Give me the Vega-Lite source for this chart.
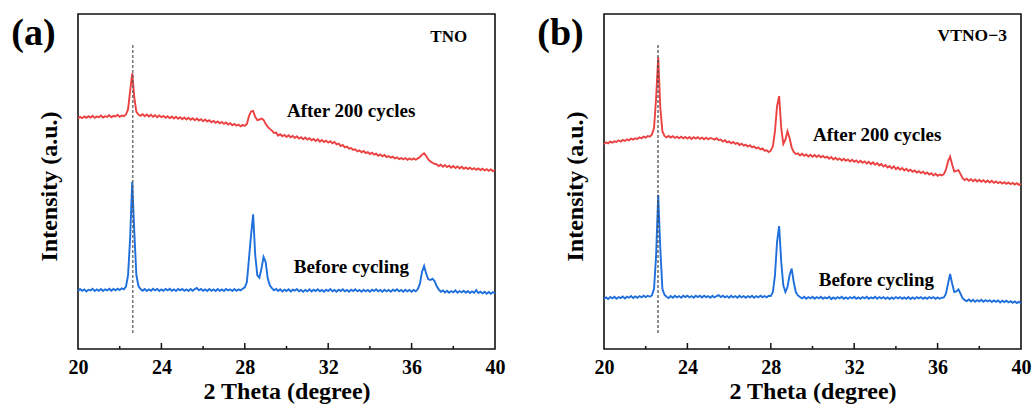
{
"$schema": "https://vega.github.io/schema/vega-lite/v6.json",
"padding": {"left": 10, "top": 13, "right": 5, "bottom": 0},
"background": "white",
"config": {
 "view": {"stroke": "#111", "strokeWidth": 1.6},
 "font": "Liberation Serif",
 "axis": {"grid": false, "domain": false, "ticks": false, "labelFont": "Liberation Serif", "titleFont": "Liberation Serif", "labelFontWeight": 700, "titleFontWeight": 700, "labelColor": "#000", "titleColor": "#000"},
 "axisX": {"labelFontSize": 20, "labelFontWeight": 700, "titleFontSize": 24, "labelPadding": 8, "titlePadding": 2, "labelFlush": false, "labelOverlap": false},
 "axisY": {"labels": false, "titleFontSize": 24, "titlePadding": 17, "titleY": 172}
},
"datasets": {
 "xrd": [
{"x":20.0,"ar":68.8,"ab":17.3,"br":61.2,"bb":15.0},
{"x":20.1,"ar":69.3,"ab":17.9,"br":61.7,"bb":15.4},
{"x":20.2,"ar":68.9,"ab":17.4,"br":61.4,"bb":14.9},
{"x":20.3,"ar":69.4,"ab":17.8,"br":61.9,"bb":15.5},
{"x":20.4,"ar":69.0,"ab":17.2,"br":61.6,"bb":15.1},
{"x":20.5,"ar":69.5,"ab":17.7,"br":62.0,"bb":15.6},
{"x":20.6,"ar":69.1,"ab":17.5,"br":61.8,"bb":15.0},
{"x":20.7,"ar":69.6,"ab":18.0,"br":62.3,"bb":15.5},
{"x":20.8,"ar":69.0,"ab":17.3,"br":61.9,"bb":15.2},
{"x":20.9,"ar":69.4,"ab":17.8,"br":62.4,"bb":15.7},
{"x":21.0,"ar":69.2,"ab":17.4,"br":62.1,"bb":15.1},
{"x":21.1,"ar":69.7,"ab":17.9,"br":62.6,"bb":15.6},
{"x":21.2,"ar":69.1,"ab":17.3,"br":62.3,"bb":15.3},
{"x":21.3,"ar":69.5,"ab":17.8,"br":62.8,"bb":15.8},
{"x":21.4,"ar":69.3,"ab":17.5,"br":62.5,"bb":15.2},
{"x":21.5,"ar":69.8,"ab":18.0,"br":62.9,"bb":15.7},
{"x":21.6,"ar":69.2,"ab":17.4,"br":62.7,"bb":15.3},
{"x":21.7,"ar":69.6,"ab":17.9,"br":63.2,"bb":15.8},
{"x":21.8,"ar":69.4,"ab":17.5,"br":62.9,"bb":15.4},
{"x":21.9,"ar":69.9,"ab":18.0,"br":63.4,"bb":15.9},
{"x":22.0,"ar":69.3,"ab":17.6,"br":63.1,"bb":15.5},
{"x":22.1,"ar":69.7,"ab":18.1,"br":63.6,"bb":15.9},
{"x":22.2,"ar":69.5,"ab":17.8,"br":63.4,"bb":15.6},
{"x":22.3,"ar":70.0,"ab":18.6,"br":64.0,"bb":16.0},
{"x":22.4,"ar":71.5,"ab":22.0,"br":66.0,"bb":18.0},
{"x":22.5,"ar":77.0,"ab":33.0,"br":75.0,"bb":28.0},
{"x":22.6,"ar":82.3,"ab":49.9,"br":87.1,"bb":46.0},
{"x":22.7,"ar":75.0,"ab":35.0,"br":72.0,"bb":30.0},
{"x":22.8,"ar":70.8,"ab":22.0,"br":65.0,"bb":18.0},
{"x":22.9,"ar":70.0,"ab":18.8,"br":63.6,"bb":16.2},
{"x":23.0,"ar":69.6,"ab":17.9,"br":63.2,"bb":15.6},
{"x":23.1,"ar":70.1,"ab":17.4,"br":63.6,"bb":15.2},
{"x":23.2,"ar":69.5,"ab":17.9,"br":63.1,"bb":15.8},
{"x":23.3,"ar":70.0,"ab":17.3,"br":63.5,"bb":15.3},
{"x":23.4,"ar":69.4,"ab":17.8,"br":63.0,"bb":15.9},
{"x":23.5,"ar":69.9,"ab":17.4,"br":63.4,"bb":15.4},
{"x":23.6,"ar":69.3,"ab":18.0,"br":62.9,"bb":15.8},
{"x":23.7,"ar":69.8,"ab":17.5,"br":63.4,"bb":15.3},
{"x":23.8,"ar":69.2,"ab":17.9,"br":62.9,"bb":15.9},
{"x":23.9,"ar":69.7,"ab":17.3,"br":63.3,"bb":15.5},
{"x":24.0,"ar":69.2,"ab":17.8,"br":62.8,"bb":15.9},
{"x":24.1,"ar":69.6,"ab":17.4,"br":63.3,"bb":15.4},
{"x":24.2,"ar":69.0,"ab":17.9,"br":62.7,"bb":15.8},
{"x":24.3,"ar":69.5,"ab":17.5,"br":63.2,"bb":15.3},
{"x":24.4,"ar":68.9,"ab":18.0,"br":62.8,"bb":15.9},
{"x":24.5,"ar":69.4,"ab":17.4,"br":63.2,"bb":15.5},
{"x":24.6,"ar":68.8,"ab":17.8,"br":62.7,"bb":15.9},
{"x":24.7,"ar":69.3,"ab":17.3,"br":63.1,"bb":15.4},
{"x":24.8,"ar":68.7,"ab":17.9,"br":62.6,"bb":15.9},
{"x":24.9,"ar":69.2,"ab":17.5,"br":63.1,"bb":15.5},
{"x":25.0,"ar":68.6,"ab":17.9,"br":62.6,"bb":15.8},
{"x":25.1,"ar":69.1,"ab":17.4,"br":63.0,"bb":15.3},
{"x":25.2,"ar":68.5,"ab":17.8,"br":62.8,"bb":15.9},
{"x":25.3,"ar":69.0,"ab":17.3,"br":62.5,"bb":15.4},
{"x":25.4,"ar":68.4,"ab":17.9,"br":62.9,"bb":15.8},
{"x":25.5,"ar":68.9,"ab":17.4,"br":62.3,"bb":16.1},
{"x":25.6,"ar":68.3,"ab":17.9,"br":62.5,"bb":15.5},
{"x":25.7,"ar":68.8,"ab":18.2,"br":61.9,"bb":15.9},
{"x":25.8,"ar":68.2,"ab":17.5,"br":62.3,"bb":15.4},
{"x":25.9,"ar":68.6,"ab":17.9,"br":61.7,"bb":15.8},
{"x":26.0,"ar":68.0,"ab":17.4,"br":62.0,"bb":15.3},
{"x":26.1,"ar":68.5,"ab":17.8,"br":61.4,"bb":15.9},
{"x":26.2,"ar":67.9,"ab":17.3,"br":61.8,"bb":15.4},
{"x":26.3,"ar":68.3,"ab":17.9,"br":61.2,"bb":15.8},
{"x":26.4,"ar":67.7,"ab":17.4,"br":61.5,"bb":15.3},
{"x":26.5,"ar":68.1,"ab":17.8,"br":60.9,"bb":15.9},
{"x":26.6,"ar":67.5,"ab":17.3,"br":61.3,"bb":15.4},
{"x":26.7,"ar":67.9,"ab":17.9,"br":60.7,"bb":15.8},
{"x":26.8,"ar":67.4,"ab":17.4,"br":61.0,"bb":15.3},
{"x":26.9,"ar":67.8,"ab":17.8,"br":60.4,"bb":15.8},
{"x":27.0,"ar":67.2,"ab":17.3,"br":60.8,"bb":15.4},
{"x":27.1,"ar":67.6,"ab":17.9,"br":60.2,"bb":15.9},
{"x":27.2,"ar":67.0,"ab":17.5,"br":60.5,"bb":15.3},
{"x":27.3,"ar":67.4,"ab":17.8,"br":59.9,"bb":15.8},
{"x":27.4,"ar":66.8,"ab":17.3,"br":60.2,"bb":15.4},
{"x":27.5,"ar":67.2,"ab":17.9,"br":59.6,"bb":15.9},
{"x":27.6,"ar":66.7,"ab":17.4,"br":59.9,"bb":15.5},
{"x":27.7,"ar":67.0,"ab":17.8,"br":59.2,"bb":15.8},
{"x":27.8,"ar":66.5,"ab":17.5,"br":59.3,"bb":15.4},
{"x":27.9,"ar":66.9,"ab":18.0,"br":58.8,"bb":15.9},
{"x":28.0,"ar":66.6,"ab":18.4,"br":59.2,"bb":15.8},
{"x":28.1,"ar":67.2,"ab":20.0,"br":60.5,"bb":17.0},
{"x":28.2,"ar":69.5,"ab":27.0,"br":65.0,"bb":22.0},
{"x":28.3,"ar":70.9,"ab":34.0,"br":72.5,"bb":32.0},
{"x":28.4,"ar":71.1,"ab":40.2,"br":75.5,"bb":36.7},
{"x":28.5,"ar":69.3,"ab":28.0,"br":66.0,"bb":26.0},
{"x":28.6,"ar":68.3,"ab":22.0,"br":61.2,"bb":19.0},
{"x":28.7,"ar":68.5,"ab":21.3,"br":62.5,"bb":17.0},
{"x":28.8,"ar":68.8,"ab":24.0,"br":65.0,"bb":18.5},
{"x":28.9,"ar":68.4,"ab":27.5,"br":63.0,"bb":22.0},
{"x":29.0,"ar":67.2,"ab":26.0,"br":60.2,"bb":24.0},
{"x":29.1,"ar":66.3,"ab":21.0,"br":58.8,"bb":20.0},
{"x":29.2,"ar":65.7,"ab":19.0,"br":58.2,"bb":17.0},
{"x":29.3,"ar":65.2,"ab":18.2,"br":58.4,"bb":16.0},
{"x":29.4,"ar":64.5,"ab":17.5,"br":57.8,"bb":15.5},
{"x":29.5,"ar":64.6,"ab":17.9,"br":58.3,"bb":15.1},
{"x":29.6,"ar":63.7,"ab":17.3,"br":57.7,"bb":15.6},
{"x":29.7,"ar":64.1,"ab":17.8,"br":58.1,"bb":15.0},
{"x":29.8,"ar":63.5,"ab":17.2,"br":57.5,"bb":15.5},
{"x":29.9,"ar":63.9,"ab":17.7,"br":58.0,"bb":15.1},
{"x":30.0,"ar":63.3,"ab":17.3,"br":57.4,"bb":15.6},
{"x":30.1,"ar":63.8,"ab":17.8,"br":57.9,"bb":15.0},
{"x":30.2,"ar":63.2,"ab":17.2,"br":57.3,"bb":15.5},
{"x":30.3,"ar":63.6,"ab":17.7,"br":57.8,"bb":15.1},
{"x":30.4,"ar":63.0,"ab":17.4,"br":57.2,"bb":15.6},
{"x":30.5,"ar":63.5,"ab":17.9,"br":57.6,"bb":15.0},
{"x":30.6,"ar":62.8,"ab":17.2,"br":57.1,"bb":15.4},
{"x":30.7,"ar":63.2,"ab":17.6,"br":57.4,"bb":15.1},
{"x":30.8,"ar":62.6,"ab":17.1,"br":56.8,"bb":15.6},
{"x":30.9,"ar":63.1,"ab":17.6,"br":57.3,"bb":14.9},
{"x":31.0,"ar":62.5,"ab":17.2,"br":56.6,"bb":15.4},
{"x":31.1,"ar":62.9,"ab":17.8,"br":57.1,"bb":15.0},
{"x":31.2,"ar":62.3,"ab":17.2,"br":56.5,"bb":15.5},
{"x":31.3,"ar":62.7,"ab":17.7,"br":56.9,"bb":15.1},
{"x":31.4,"ar":62.1,"ab":17.3,"br":56.3,"bb":15.6},
{"x":31.5,"ar":62.6,"ab":17.8,"br":56.8,"bb":15.0},
{"x":31.6,"ar":61.9,"ab":17.2,"br":56.2,"bb":15.4},
{"x":31.7,"ar":62.4,"ab":17.6,"br":56.6,"bb":15.0},
{"x":31.8,"ar":61.8,"ab":17.1,"br":56.0,"bb":15.5},
{"x":31.9,"ar":62.2,"ab":17.7,"br":56.5,"bb":15.1},
{"x":32.0,"ar":61.6,"ab":17.3,"br":55.9,"bb":15.6},
{"x":32.1,"ar":62.0,"ab":17.9,"br":56.3,"bb":15.0},
{"x":32.2,"ar":61.4,"ab":17.2,"br":55.7,"bb":15.4},
{"x":32.3,"ar":61.8,"ab":17.6,"br":56.2,"bb":15.0},
{"x":32.4,"ar":61.1,"ab":17.1,"br":55.6,"bb":15.5},
{"x":32.5,"ar":61.3,"ab":17.7,"br":56.0,"bb":15.1},
{"x":32.6,"ar":60.6,"ab":17.3,"br":55.4,"bb":15.6},
{"x":32.7,"ar":60.9,"ab":17.8,"br":55.9,"bb":15.0},
{"x":32.8,"ar":60.2,"ab":17.2,"br":55.2,"bb":15.4},
{"x":32.9,"ar":60.4,"ab":17.6,"br":55.7,"bb":15.1},
{"x":33.0,"ar":59.8,"ab":17.1,"br":55.0,"bb":15.6},
{"x":33.1,"ar":60.0,"ab":17.7,"br":55.5,"bb":15.0},
{"x":33.2,"ar":59.4,"ab":17.3,"br":54.8,"bb":15.5},
{"x":33.3,"ar":59.6,"ab":17.8,"br":55.2,"bb":15.1},
{"x":33.4,"ar":59.0,"ab":17.2,"br":54.5,"bb":15.5},
{"x":33.5,"ar":59.3,"ab":17.6,"br":54.9,"bb":15.0},
{"x":33.6,"ar":58.7,"ab":17.1,"br":54.2,"bb":15.4},
{"x":33.7,"ar":59.1,"ab":17.7,"br":54.6,"bb":14.9},
{"x":33.8,"ar":58.5,"ab":17.2,"br":53.9,"bb":15.4},
{"x":33.9,"ar":58.8,"ab":17.6,"br":54.5,"bb":15.0},
{"x":34.0,"ar":58.2,"ab":17.1,"br":53.7,"bb":15.5},
{"x":34.1,"ar":58.6,"ab":17.7,"br":54.2,"bb":15.1},
{"x":34.2,"ar":58.0,"ab":17.3,"br":53.5,"bb":15.5},
{"x":34.3,"ar":58.3,"ab":17.8,"br":54.0,"bb":15.0},
{"x":34.4,"ar":57.7,"ab":17.2,"br":53.3,"bb":15.4},
{"x":34.5,"ar":58.1,"ab":17.6,"br":53.8,"bb":15.0},
{"x":34.6,"ar":57.5,"ab":17.1,"br":53.1,"bb":15.5},
{"x":34.7,"ar":57.9,"ab":17.7,"br":53.5,"bb":14.9},
{"x":34.8,"ar":57.3,"ab":17.2,"br":52.9,"bb":15.4},
{"x":34.9,"ar":57.6,"ab":17.6,"br":53.3,"bb":15.0},
{"x":35.0,"ar":57.1,"ab":17.1,"br":52.7,"bb":15.5},
{"x":35.1,"ar":57.4,"ab":17.7,"br":53.1,"bb":15.1},
{"x":35.2,"ar":56.9,"ab":17.3,"br":52.5,"bb":15.5},
{"x":35.3,"ar":57.2,"ab":17.8,"br":52.9,"bb":15.0},
{"x":35.4,"ar":56.7,"ab":17.2,"br":52.3,"bb":15.4},
{"x":35.5,"ar":57.0,"ab":17.6,"br":52.7,"bb":15.0},
{"x":35.6,"ar":56.6,"ab":17.1,"br":52.1,"bb":15.5},
{"x":35.7,"ar":57.0,"ab":17.7,"br":52.5,"bb":15.1},
{"x":35.8,"ar":56.5,"ab":17.2,"br":51.8,"bb":15.5},
{"x":35.9,"ar":56.9,"ab":17.6,"br":52.3,"bb":15.0},
{"x":36.0,"ar":56.5,"ab":17.1,"br":51.7,"bb":15.4},
{"x":36.1,"ar":56.9,"ab":17.6,"br":52.1,"bb":15.0},
{"x":36.2,"ar":56.5,"ab":17.2,"br":51.8,"bb":15.3},
{"x":36.3,"ar":56.9,"ab":17.9,"br":52.2,"bb":15.4},
{"x":36.4,"ar":57.3,"ab":19.5,"br":53.5,"bb":16.5},
{"x":36.5,"ar":58.0,"ab":23.0,"br":56.0,"bb":19.5},
{"x":36.6,"ar":58.4,"ab":24.8,"br":57.4,"bb":22.4},
{"x":36.7,"ar":57.6,"ab":22.5,"br":55.0,"bb":19.5},
{"x":36.8,"ar":56.6,"ab":20.8,"br":53.0,"bb":17.0},
{"x":36.9,"ar":56.0,"ab":20.6,"br":53.2,"bb":17.2},
{"x":37.0,"ar":55.6,"ab":21.0,"br":53.4,"bb":17.8},
{"x":37.1,"ar":55.3,"ab":20.3,"br":52.2,"bb":16.5},
{"x":37.2,"ar":55.1,"ab":18.8,"br":51.0,"bb":15.2},
{"x":37.3,"ar":54.6,"ab":17.8,"br":50.4,"bb":14.6},
{"x":37.4,"ar":55.0,"ab":17.1,"br":50.8,"bb":14.3},
{"x":37.5,"ar":54.4,"ab":17.5,"br":50.2,"bb":14.8},
{"x":37.6,"ar":54.9,"ab":16.9,"br":50.7,"bb":14.2},
{"x":37.7,"ar":54.3,"ab":17.4,"br":50.1,"bb":14.7},
{"x":37.8,"ar":54.7,"ab":16.8,"br":50.6,"bb":14.1},
{"x":37.9,"ar":54.1,"ab":17.3,"br":50.0,"bb":14.6},
{"x":38.0,"ar":54.6,"ab":16.9,"br":50.5,"bb":14.2},
{"x":38.1,"ar":54.0,"ab":17.5,"br":49.9,"bb":14.7},
{"x":38.2,"ar":54.5,"ab":16.8,"br":50.4,"bb":14.1},
{"x":38.3,"ar":53.9,"ab":17.3,"br":49.8,"bb":14.6},
{"x":38.4,"ar":54.4,"ab":16.9,"br":50.3,"bb":14.2},
{"x":38.5,"ar":53.8,"ab":17.4,"br":49.7,"bb":14.6},
{"x":38.6,"ar":54.2,"ab":16.8,"br":50.2,"bb":14.0},
{"x":38.7,"ar":53.7,"ab":17.3,"br":49.6,"bb":14.5},
{"x":38.8,"ar":54.1,"ab":16.7,"br":50.0,"bb":14.1},
{"x":38.9,"ar":53.6,"ab":17.2,"br":49.5,"bb":14.5},
{"x":39.0,"ar":54.0,"ab":16.8,"br":49.9,"bb":13.9},
{"x":39.1,"ar":53.5,"ab":17.6,"br":49.4,"bb":14.4},
{"x":39.2,"ar":53.9,"ab":16.7,"br":49.8,"bb":14.0},
{"x":39.3,"ar":53.4,"ab":17.1,"br":49.3,"bb":14.4},
{"x":39.4,"ar":53.8,"ab":16.6,"br":49.7,"bb":13.9},
{"x":39.5,"ar":53.3,"ab":17.1,"br":49.2,"bb":14.3},
{"x":39.6,"ar":53.7,"ab":16.5,"br":49.6,"bb":13.8},
{"x":39.7,"ar":53.2,"ab":17.0,"br":49.1,"bb":14.2},
{"x":39.8,"ar":53.6,"ab":16.5,"br":49.5,"bb":13.7},
{"x":39.9,"ar":53.1,"ab":17.0,"br":49.0,"bb":14.1},
{"x":40.0,"ar":53.4,"ab":16.6,"br":49.3,"bb":13.6}
 ],
 "major": [{"x":24,"y":0,"y2":1.8},{"x":28,"y":0,"y2":1.8},{"x":32,"y":0,"y2":1.8},{"x":36,"y":0,"y2":1.8}],
 "minor": [{"x":22,"y":0,"y2":0.9},{"x":26,"y":0,"y2":0.9},{"x":30,"y":0,"y2":0.9},{"x":34,"y":0,"y2":0.9},{"x":38,"y":0,"y2":0.9}]
},
"spacing": 109,
"bounds": "flush",
"hconcat": [
 {
  "width": 417, "height": 335,
  "layer": [
   {"data": {"name": "xrd"}, "transform": [{"fold": ["ar", "ab"], "as": ["s", "y"]}],
    "mark": {"type": "line", "strokeWidth": 1.9},
    "encoding": {
     "x": {"field": "x", "type": "quantitative", "title": "2 Theta (degree)", "scale": {"domain": [20, 40], "nice": false, "zero": false}, "axis": {"values": [20, 24, 28, 32, 36, 40], "encode": {"labels": {"update": {"fontWeight": {"value": "bold"}, "font": {"value": "Liberation Serif"}}}}}},
     "y": {"field": "y", "type": "quantitative", "title": "Intensity (a.u.)", "scale": {"domain": [0, 100], "nice": false, "zero": false}},
     "color": {"field": "s", "type": "nominal", "scale": {"domain": ["ar", "ab"], "range": ["#EB4141", "#1E6FDC"]}, "legend": null}
    }},
   {"data": {"values": [{"x": 22.63, "y": 4.8, "y2": 91.3}]},
    "mark": {"type": "rule", "strokeDash": [3, 2], "color": "#555", "strokeWidth": 1.2},
    "encoding": {"x": {"field": "x", "type": "quantitative", "title": "2 Theta (degree)"}, "y": {"field": "y", "type": "quantitative", "title": "Intensity (a.u.)"}, "y2": {"field": "y2"}}},
   {"data": {"name": "major"}, "mark": {"type": "rule", "color": "#111", "strokeWidth": 1.5},
    "encoding": {"x": {"field": "x", "type": "quantitative", "title": "2 Theta (degree)"}, "y": {"field": "y", "type": "quantitative", "title": "Intensity (a.u.)"}, "y2": {"field": "y2"}}},
   {"data": {"name": "minor"}, "mark": {"type": "rule", "color": "#111", "strokeWidth": 1.5},
    "encoding": {"x": {"field": "x", "type": "quantitative", "title": "2 Theta (degree)"}, "y": {"field": "y", "type": "quantitative", "title": "Intensity (a.u.)"}, "y2": {"field": "y2"}}},
   {"data": {"values": [{"x": 16.8, "y": 90.7, "t": "(a)"}]},
    "mark": {"type": "text", "font": "Liberation Serif", "fontWeight": "bold", "fontSize": 38, "align": "left", "baseline": "alphabetic", "color": "#000"},
    "encoding": {"x": {"field": "x", "type": "quantitative", "title": "2 Theta (degree)"}, "y": {"field": "y", "type": "quantitative", "title": "Intensity (a.u.)"}, "text": {"field": "t"}}},
   {"data": {"values": [{"x": 36.9, "y": 91.7, "t": "TNO"}]},
    "mark": {"type": "text", "font": "Liberation Serif", "fontWeight": "bold", "fontSize": 17, "align": "left", "baseline": "alphabetic", "color": "#000"},
    "encoding": {"x": {"field": "x", "type": "quantitative", "title": "2 Theta (degree)"}, "y": {"field": "y", "type": "quantitative", "title": "Intensity (a.u.)"}, "text": {"field": "t"}}},
   {"data": {"values": [{"x": 30.02, "y": 69.2, "t": "After 200 cycles"}, {"x": 30.35, "y": 22.6, "t": "Before cycling"}]},
    "mark": {"type": "text", "font": "Liberation Serif", "fontWeight": "bold", "fontSize": 19, "align": "left", "baseline": "alphabetic", "color": "#000"},
    "encoding": {"x": {"field": "x", "type": "quantitative", "title": "2 Theta (degree)"}, "y": {"field": "y", "type": "quantitative", "title": "Intensity (a.u.)"}, "text": {"field": "t"}}}
  ]
 },
 {
  "width": 417, "height": 335,
  "layer": [
   {"data": {"name": "xrd"}, "transform": [{"fold": ["br", "bb"], "as": ["s", "y"]}],
    "mark": {"type": "line", "strokeWidth": 1.9},
    "encoding": {
     "x": {"field": "x", "type": "quantitative", "title": "2 Theta (degree)", "scale": {"domain": [20, 40], "nice": false, "zero": false}, "axis": {"values": [20, 24, 28, 32, 36, 40], "encode": {"labels": {"update": {"fontWeight": {"value": "bold"}, "font": {"value": "Liberation Serif"}}}}}},
     "y": {"field": "y", "type": "quantitative", "title": "Intensity (a.u.)", "scale": {"domain": [0, 100], "nice": false, "zero": false}},
     "color": {"field": "s", "type": "nominal", "scale": {"domain": ["br", "bb"], "range": ["#EB4141", "#1E6FDC"]}, "legend": null}
    }},
   {"data": {"values": [{"x": 22.59, "y": 4.8, "y2": 91.3}]},
    "mark": {"type": "rule", "strokeDash": [3, 2], "color": "#444", "strokeWidth": 1.2},
    "encoding": {"x": {"field": "x", "type": "quantitative", "title": "2 Theta (degree)"}, "y": {"field": "y", "type": "quantitative", "title": "Intensity (a.u.)"}, "y2": {"field": "y2"}}},
   {"data": {"name": "major"}, "mark": {"type": "rule", "color": "#111", "strokeWidth": 1.5},
    "encoding": {"x": {"field": "x", "type": "quantitative", "title": "2 Theta (degree)"}, "y": {"field": "y", "type": "quantitative", "title": "Intensity (a.u.)"}, "y2": {"field": "y2"}}},
   {"data": {"name": "minor"}, "mark": {"type": "rule", "color": "#111", "strokeWidth": 1.5},
    "encoding": {"x": {"field": "x", "type": "quantitative", "title": "2 Theta (degree)"}, "y": {"field": "y", "type": "quantitative", "title": "Intensity (a.u.)"}, "y2": {"field": "y2"}}},
   {"data": {"values": [{"x": 16.8, "y": 90.7, "t": "(b)"}]},
    "mark": {"type": "text", "font": "Liberation Serif", "fontWeight": "bold", "fontSize": 38, "align": "left", "baseline": "alphabetic", "color": "#000"},
    "encoding": {"x": {"field": "x", "type": "quantitative", "title": "2 Theta (degree)"}, "y": {"field": "y", "type": "quantitative", "title": "Intensity (a.u.)"}, "text": {"field": "t"}}},
   {"data": {"values": [{"x": 36.0, "y": 92.0, "t": "VTNO−3"}]},
    "mark": {"type": "text", "font": "Liberation Serif", "fontWeight": "bold", "fontSize": 17.5, "align": "left", "baseline": "alphabetic", "color": "#000"},
    "encoding": {"x": {"field": "x", "type": "quantitative", "title": "2 Theta (degree)"}, "y": {"field": "y", "type": "quantitative", "title": "Intensity (a.u.)"}, "text": {"field": "t"}}},
   {"data": {"values": [{"x": 30.02, "y": 62.2, "t": "After 200 cycles"}, {"x": 30.3, "y": 18.8, "t": "Before cycling"}]},
    "mark": {"type": "text", "font": "Liberation Serif", "fontWeight": "bold", "fontSize": 19, "align": "left", "baseline": "alphabetic", "color": "#000"},
    "encoding": {"x": {"field": "x", "type": "quantitative", "title": "2 Theta (degree)"}, "y": {"field": "y", "type": "quantitative", "title": "Intensity (a.u.)"}, "text": {"field": "t"}}}
  ]
 }
]
}
